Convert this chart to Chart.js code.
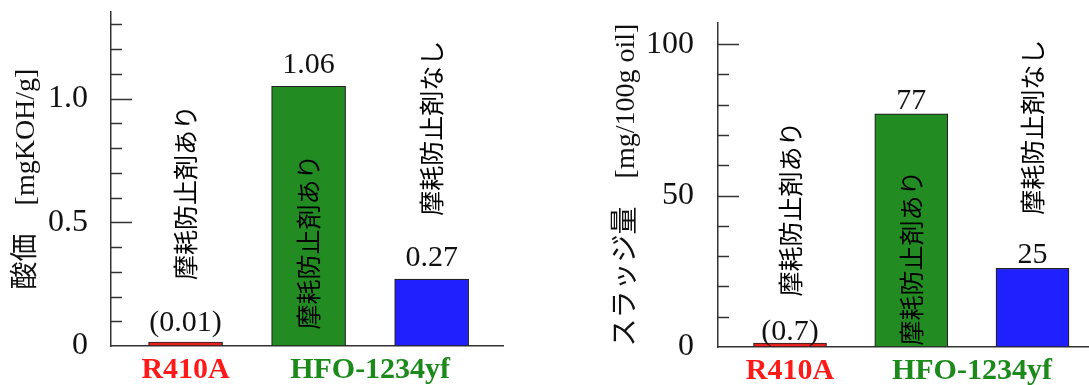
<!DOCTYPE html>
<html>
<head>
<meta charset="utf-8">
<script src="https://cdn.jsdelivr.net/npm/chart.js@4.4.1/dist/chart.umd.min.js"></script>
<style>
  body { margin: 0; background: #fff; width: 1089px; height: 385px; overflow: hidden; position: relative; }
  canvas { position: absolute; top: 0; }
  #acidChart { left: 0; }
  #sludgeChart { left: 590px; }
</style>
</head>
<body>
<canvas id="acidChart" width="505" height="385"></canvas>
<canvas id="sludgeChart" width="499" height="385"></canvas>
<script>
// categories (HFO-1234yf covers the last two bars)
const categories = ["R410A", "HFO-1234yf"];
const categoryColors = ["#ff1a1a", "#1b8a1b"];
const categoryPos = [0, 1.5];

// bars
const barPos = [0, 1, 2];
const barColors = ["#e8201e", "#228b22", "#2020ff"];
const notes = ["摩耗防止剤あり", "摩耗防止剤あり", "摩耗防止剤なし"];

// 酸価
const acidValues = [0.01, 1.05, 0.27];
const acidLabels = ["(0.01)", "1.06", "0.27"];

// スラッジ量
const sludgeValues = [0.7, 77, 26];
const sludgeLabels = ["(0.7)", "77", "25"];

const SERIF = "'Liberation Serif', 'Noto Sans CJK JP', serif";
const near = (v, step) => Math.abs(v / step - Math.round(v / step)) < 1e-6;

// inward ticks, value labels and the vertical notes
const barNotes = {
  id: 'barNotes',
  afterDatasetsDraw(chart, args, opts) {
    const ctx = chart.ctx;
    const xs = chart.scales.x, ys = chart.scales.y;
    const area = chart.chartArea;
    ctx.save();
    ctx.strokeStyle = '#333';
    ctx.lineWidth = 1.5;
    ys.ticks.forEach(t => {
      if (t.value === 0 || !near(t.value, opts.minorStep)) return;
      const len = near(t.value, opts.majorStep) ? 21 : 11;
      const py = Math.round(ys.getPixelForValue(t.value)) + 0.5;
      ctx.beginPath();
      ctx.moveTo(area.left, py);
      ctx.lineTo(area.left + len, py);
      ctx.stroke();
    });

    ctx.fillStyle = '#111';
    ctx.textAlign = 'center';
    ctx.textBaseline = 'alphabetic';
    ctx.font = '30px ' + SERIF;
    opts.values.forEach((v, i) => {
      ctx.fillText(opts.labels[i], xs.getPixelForValue(barPos[i]), ys.getPixelForValue(v) - opts.gap);
    });

    ctx.fillStyle = '#000';
    ctx.font = "25px 'Noto Sans CJK JP', sans-serif";
    ctx.textBaseline = 'middle';
    notes.forEach((n, i) => {
      ctx.save();
      ctx.translate(xs.getPixelForValue(barPos[i]), ys.getPixelForValue(opts.noteAt[i]));
      ctx.rotate(-Math.PI / 2);
      ctx.fillText(n, 0, 0);
      ctx.restore();
    });
    ctx.restore();
  }
};

function makeChart(id, o) {
  return new Chart(id, {
    type: 'bar',
    data: {
      datasets: [{
        data: o.values.map((v, i) => ({ x: barPos[i], y: v })),
        backgroundColor: barColors,
        borderColor: '#222',
        borderWidth: 1.2,
        borderSkipped: false,
        minBarLength: 4,
        barThickness: o.barWidth
      }]
    },
    options: {
      responsive: false,
      animation: false,
      layout: { padding: { top: o.top, right: o.right, left: 0, bottom: 0 } },
      plugins: {
        legend: { display: false },
        tooltip: { enabled: false },
        barNotes: {
          values: o.values, labels: o.labels, gap: o.gap, noteAt: o.noteAt,
          minorStep: o.minorStep, majorStep: o.majorStep
        }
      },
      scales: {
        x: {
          type: 'linear',
          bounds: 'data',
          offset: false,
          min: o.xMin,
          max: o.xMax,
          afterBuildTicks: s => { s.ticks = categoryPos.map(v => ({ value: v })); },
          afterFit: s => { s.height = o.xHeight; s.paddingLeft = 0; s.paddingRight = 0; },
          grid: { display: false },
          border: { display: true, color: '#333', width: 1.5 },
          ticks: {
            autoSkip: false,
            maxRotation: 0,
            padding: -2,
            font: { family: SERIF, size: 30, weight: 'bold' },
            color: c => categoryColors[c.index],
            callback: (v, i) => categories[i]
          }
        },
        y: {
          min: 0,
          max: o.yMax,
          afterFit: s => { s.width = o.yWidth; s.paddingTop = 0; s.paddingBottom = 0; },
          grid: { display: false },
          border: { display: true, color: '#333', width: 1.5 },
          title: {
            display: true,
            text: o.title,
            font: { family: SERIF, size: 28 },
            color: '#111',
            padding: { top: o.titlePad, bottom: 0 }
          },
          ticks: {
            stepSize: o.minorStep,
            includeBounds: false,
            autoSkip: false,
            padding: o.tickPad,
            font: { family: SERIF, size: 32 },
            color: '#111',
            callback: o.tickFmt
          }
        }
      }
    },
    plugins: [barNotes]
  });
}

makeChart('acidChart', {
  values: acidValues, labels: acidLabels, gap: 13, noteAt: [0.62, 0.42, 0.88],
  barWidth: 74, top: 12, right: 2, xMin: -0.606, xMax: 2.58, xHeight: 39,
  yMax: 1.35, yWidth: 111, minorStep: 0.1, majorStep: 0.5,
  title: '酸価　[mgKOH/g]', titlePad: 10, tickPad: 15,
  tickFmt: v => near(v, 0.5) ? (v === 0 ? '0' : v.toFixed(1)) : ''
});

makeChart('sludgeChart', {
  values: sludgeValues, labels: sludgeLabels, gap: 5, noteAt: [45.6, 29.4, 72.6],
  barWidth: 73, top: 23, right: 0, xMin: -0.594, xMax: 2.466, xHeight: 38,
  yMax: 107, yWidth: 128, minorStep: 10, majorStep: 50,
  title: 'スラッジ量　[mg/100g oil]', titlePad: 20, tickPad: 16,
  tickFmt: v => near(v, 50) ? String(v) : ''
});
</script>
</body>
</html>
